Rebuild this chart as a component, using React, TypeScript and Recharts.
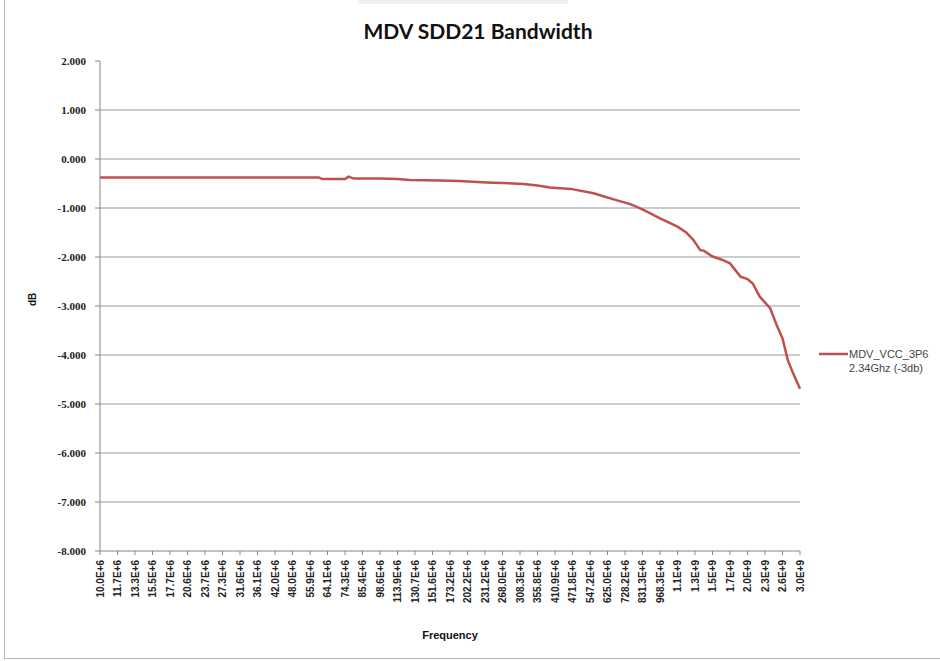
import React from 'react';
import {
  LineChart,
  Line,
  XAxis,
  YAxis,
  ReferenceLine,
  Legend,
} from 'recharts';

// x-axis labels (frequency), one per labelled sweep step
const tickLabels = [
  '10.0E+6', '11.7E+6', '13.3E+6', '15.5E+6', '17.7E+6', '20.6E+6', '23.7E+6',
  '27.3E+6', '31.6E+6', '36.1E+6', '42.0E+6', '48.0E+6', '55.9E+6', '64.1E+6',
  '74.3E+6', '85.4E+6', '98.6E+6', '113.9E+6', '130.7E+6', '151.6E+6', '173.2E+6',
  '202.2E+6', '231.2E+6', '268.0E+6', '308.3E+6', '355.8E+6', '410.9E+6',
  '471.8E+6', '547.2E+6', '625.0E+6', '728.2E+6', '831.3E+6', '968.3E+6',
  '1.1E+9', '1.3E+9', '1.5E+9', '1.7E+9', '2.0E+9', '2.3E+9', '2.6E+9', '3.0E+9',
];
const tickPositions = tickLabels.map((_, i) => i);

// sweep position (in label steps) and measured SDD21 (dB)
const sweepPos = [
  0, 6, 12.5, 12.7, 14.0, 14.2, 14.5, 16, 17, 17.7, 19.4, 20.5, 22.1, 23, 24.2,
  25, 25.7, 26.9, 28.2, 29.5, 30.3, 31, 32, 33, 33.5, 33.9, 34.3, 34.5, 35,
  35.5, 36, 36.6, 37.0, 37.3, 37.7, 38.3, 38.7, 39, 39.3, 39.6, 40,
];
const sdd21 = [
  -0.375, -0.375, -0.375, -0.41, -0.41, -0.36, -0.4, -0.4, -0.41, -0.43, -0.44,
  -0.45, -0.48, -0.49, -0.51, -0.54, -0.58, -0.61, -0.7, -0.84, -0.92, -1.03,
  -1.21, -1.38, -1.5, -1.65, -1.86, -1.87, -1.99, -2.05, -2.13, -2.4, -2.45,
  -2.54, -2.81, -3.05, -3.42, -3.66, -4.1, -4.37, -4.69,
];

const yTicks = [-8, -7, -6, -5, -4, -3, -2, -1, 0, 1, 2];
const gridValues = [-7, -6, -5, -4, -3, -2, -1, 0, 1];

const seriesName = 'MDV_VCC_3P6';
const seriesNote = '2.34Ghz (-3db)';

const data = sweepPos.map((pos, i) => ({ pos, sdd21: sdd21[i] }));

const RED = '#C0504D';
const AXIS = '#868686';
const LEGEND_W = 120;

const XTick = ({ x, y, payload }: any) => (
  <g transform={`translate(${x},${y})`}>
    <text
      x={0}
      y={0}
      dy="0.35em"
      textAnchor="end"
      transform="rotate(-90)"
      fontFamily="Liberation Sans, Arial, sans-serif"
      fontSize={10}
      fontWeight="bold"
      fill="#222"
    >
      {tickLabels[payload.value]}
    </text>
  </g>
);

const LegendContent = () => (
  <div
    style={{
      display: 'flex',
      alignItems: 'flex-start',
      fontFamily: 'Liberation Sans, Arial, sans-serif',
      fontSize: 11,
      color: '#444',
      lineHeight: '14px',
    }}
  >
    <svg width={30} height={14}>
      <line x1={0} x2={29} y1={7} y2={7} stroke={RED} strokeWidth={2.5} />
    </svg>
    <div>
      {seriesName}
      <br />
      {seriesNote}
    </div>
  </div>
);

export default function App() {
  return (
    <div style={{ position: 'absolute', left: 0, top: 0, width: 940, height: 661, background: '#fff' }}>
      <div style={{ position: 'absolute', left: 358, top: 0, width: 210, height: 4, background: '#f0f0f0' }} />
      <div
        style={{
          position: 'absolute',
          left: 4,
          top: -2,
          width: 940,
          height: 660,
          borderLeft: '1px solid #b8b8b8',
          borderBottom: '1px solid #b8b8b8',
        }}
      />
      <div
        style={{
          position: 'absolute',
          top: 18,
          left: 0,
          width: 956,
          textAlign: 'center',
          fontFamily: 'Lato, sans-serif',
          fontWeight: 'bold',
          fontSize: 21,
          color: '#111',
        }}
      >
        MDV SDD21 Bandwidth
      </div>
      <LineChart
        width={940}
        height={661}
        data={data}
        margin={{ top: 61, right: 140 - LEGEND_W, bottom: 40, left: 40 }}
        style={{ position: 'absolute', left: 0, top: 0 }}
      >
        {gridValues.map((v) => (
          <ReferenceLine key={v} y={v} stroke="#9a9a9a" strokeWidth={1} />
        ))}
        <XAxis
          dataKey="pos"
          type="number"
          domain={[0, 40]}
          ticks={tickPositions}
          interval={0}
          height={70}
          stroke={AXIS}
          tickSize={4}
          tickMargin={5}
          tick={<XTick />}
          label={{
            value: 'Frequency',
            position: 'insideBottom',
            offset: -18,
            style: { fontFamily: 'Liberation Sans, Arial, sans-serif', fontWeight: 'bold', fontSize: 11, fill: '#111' },
          }}
        />
        <YAxis
          type="number"
          domain={[-8, 2]}
          ticks={yTicks}
          interval={0}
          width={60}
          stroke={AXIS}
          tickSize={5}
          tickMargin={9}
          tickFormatter={(v: number) => v.toFixed(3)}
          tick={{ fontFamily: 'Liberation Serif, serif', fontWeight: 'bold', fontSize: 11, fill: '#222' }}
          label={{
            value: 'dB',
            angle: -90,
            position: 'insideLeft',
            offset: -8,
            style: { fontFamily: 'Liberation Sans, Arial, sans-serif', fontWeight: 'bold', fontSize: 10, fill: '#111' },
          }}
        />
        <Legend
          layout="horizontal"
          verticalAlign="middle"
          align="right"
          content={<LegendContent />}
          wrapperStyle={{ left: 819, top: 347, width: LEGEND_W }}
        />
        <Line
          type="linear"
          dataKey="sdd21"
          name={`${seriesName} ${seriesNote}`}
          stroke={RED}
          strokeWidth={2.5}
          dot={false}
          isAnimationActive={false}
        />
      </LineChart>
    </div>
  );
}
